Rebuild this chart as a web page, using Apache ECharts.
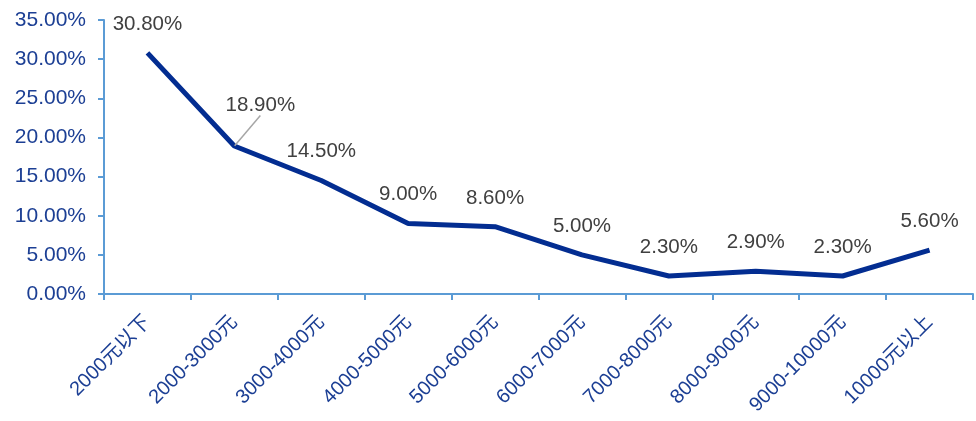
<!DOCTYPE html>
<html>
<head>
<meta charset="utf-8">
<script src="https://cdn.jsdelivr.net/npm/echarts@6/dist/echarts.min.js"></script>
<style>
  html, body { margin: 0; padding: 0; background: #ffffff; }
  #chart { width: 976px; height: 421px; }
</style>
</head>
<body>
<div id="chart"></div>
<script>
// Price bands (yuan) and the share of each band, in percent
const categories = ['2000元以下', '2000-3000元', '3000-4000元', '4000-5000元', '5000-6000元',
  '6000-7000元', '7000-8000元', '8000-9000元', '9000-10000元', '10000元以上'];
const shares = [30.8, 18.9, 14.5, 9.0, 8.6, 5.0, 2.3, 2.9, 2.3, 5.6];

const FONT = '"Liberation Sans", Arial, "Noto Sans CJK SC", sans-serif';
const AXIS_BLUE = '#5B9BD5';
const TEXT_BLUE = '#1C3F94';

// the second label sits off to the right, tied to its point by a guide line
const seriesData = shares.map((v, i) => i === 1
  ? { value: v, labelLine: { show: true, lineStyle: { color: '#A6A6A6', width: 1.5 } } }
  : { value: v, labelLine: { show: false } });

const chart = echarts.init(document.getElementById('chart'));
chart.setOption({
  animation: false,
  grid: { left: 104, right: 3, top: 20, bottom: 127, containLabel: false },
  xAxis: {
    type: 'category',
    data: categories,
    boundaryGap: true,
    axisLine: { lineStyle: { color: AXIS_BLUE, width: 2 } },
    axisTick: { show: true, alignWithLabel: false, length: 6, lineStyle: { color: AXIS_BLUE, width: 2 } },
    axisLabel: { rotate: 45, margin: 25, color: TEXT_BLUE, fontSize: 20, fontFamily: FONT, interval: 0 }
  },
  yAxis: {
    type: 'value',
    min: 0,
    max: 35,
    interval: 5,
    axisLine: { show: true, lineStyle: { color: AXIS_BLUE, width: 2 } },
    axisTick: { show: true, length: 6, lineStyle: { color: AXIS_BLUE, width: 2 } },
    splitLine: { show: false },
    axisLabel: {
      margin: 18, color: TEXT_BLUE, fontSize: 21, fontFamily: FONT,
      formatter: v => v.toFixed(2) + '%'
    }
  },
  series: [{
    type: 'line',
    data: seriesData,
    symbol: 'circle',
    symbolSize: 1,
    showSymbol: true,
    itemStyle: { color: 'rgba(0,0,0,0)' },
    lineStyle: { color: '#032D91', width: 5 },
    label: {
      show: true, position: 'top', distance: 18,
      color: '#404040', fontSize: 20.5, fontFamily: FONT,
      formatter: p => p.value.toFixed(2) + '%'
    },
    labelLayout: p => p.dataIndex === 1 ? { dx: 26, dy: -12 } : {}
  }]
});
</script>
</body>
</html>
